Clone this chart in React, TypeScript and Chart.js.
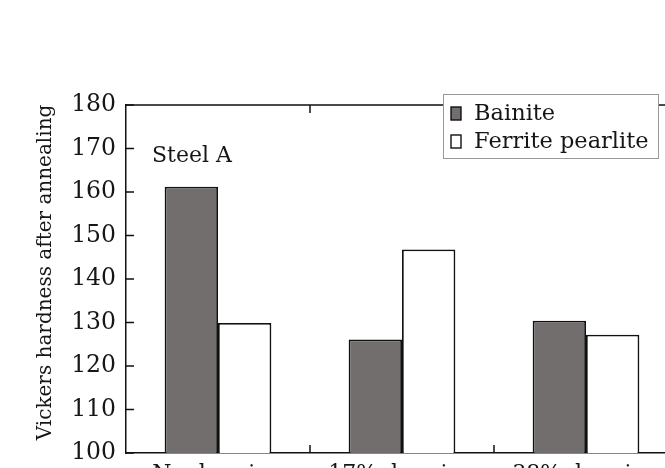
import React, { useEffect, useRef } from 'react';
import { Chart, registerables, ChartConfiguration, Plugin } from 'chart.js';

Chart.register(...registerables);

const categories = ['No drawing', '17% drawing', '38% drawing'];
const bainite = [161.2, 126.1, 130.4];
const ferritePearlite = [129.9, 146.8, 127.2];
const yTicks = [100, 110, 120, 130, 140, 150, 160, 170, 180];
const yTitle = 'Vickers hardness after annealing';

const FONT = '"DejaVu Serif", serif';
const BAR_GRAY = '#736e6e';
const INK = '#161616';

const decor: Plugin = {
  id: 'decor',
  afterDraw(chart) {
    const { ctx, chartArea: a } = chart;
    const x = chart.scales.x;
    const y = chart.scales.y;
    ctx.save();
    ctx.strokeStyle = '#111';
    ctx.lineWidth = 1.5;

    // top and right frame
    ctx.beginPath();
    ctx.moveTo(a.left, a.top);
    ctx.lineTo(a.right, a.top);
    ctx.lineTo(a.right, a.bottom);
    ctx.stroke();

    // inward y ticks
    ctx.beginPath();
    yTicks.forEach(v => {
      const py = y.getPixelForValue(v);
      ctx.moveTo(a.left, py);
      ctx.lineTo(a.left + 8, py);
    });
    // inward x ticks between categories
    for (let i = 1; i < categories.length; i++) {
      const px = (x.getPixelForValue(i - 1) + x.getPixelForValue(i)) / 2;
      ctx.moveTo(px, a.bottom);
      ctx.lineTo(px, a.bottom - 8);
      ctx.moveTo(px, a.top);
      ctx.lineTo(px, a.top + 8);
    }
    ctx.stroke();

    // y axis title (sits a little above the axis centre in the original)
    ctx.fillStyle = INK;
    ctx.save();
    ctx.translate(46, y.getPixelForValue(141.5));
    ctx.rotate(-Math.PI / 2);
    ctx.font = `20px ${FONT}`;
    ctx.textAlign = 'center';
    ctx.textBaseline = 'middle';
    ctx.fillText(yTitle, 0, 0);
    ctx.restore();

    // panel label
    ctx.font = `22px ${FONT}`;
    ctx.textAlign = 'left';
    ctx.textBaseline = 'middle';
    ctx.fillText('Steel A', x.getPixelForValue(0) - 66, y.getPixelForValue(168.3));

    // legend box
    const lx = 443, ly = 94, lw = 215, lh = 64;
    ctx.fillStyle = '#fff';
    ctx.fillRect(lx, ly, lw, lh);
    ctx.strokeStyle = '#999';
    ctx.lineWidth = 1;
    ctx.strokeRect(lx + 0.5, ly + 0.5, lw, lh);
    const items = [
      { label: 'Bainite', fill: BAR_GRAY },
      { label: 'Ferrite pearlite', fill: '#fff' },
    ];
    ctx.font = `22.5px ${FONT}`;
    items.forEach((it, i) => {
      const cy = ly + 19 + i * 28;
      ctx.fillStyle = it.fill;
      ctx.fillRect(451, cy - 6, 10, 13);
      ctx.strokeStyle = '#111';
      ctx.lineWidth = 1.4;
      ctx.strokeRect(451, cy - 6, 10, 13);
      ctx.fillStyle = INK;
      ctx.fillText(it.label, 474, cy + 1);
    });
    ctx.restore();
  },
};

const BarChart: React.FC = () => {
  const canvasRef = useRef<HTMLCanvasElement>(null);

  useEffect(() => {
    if (!canvasRef.current) return;
    const config: ChartConfiguration = {
      type: 'bar',
      data: {
        labels: categories,
        datasets: [
          {
            label: 'Bainite',
            data: bainite,
            backgroundColor: BAR_GRAY,
            borderColor: '#111',
            borderWidth: 1.8,
          },
          {
            label: 'Ferrite pearlite',
            data: ferritePearlite,
            backgroundColor: '#fff',
            borderColor: '#111',
            borderWidth: 1.8,
          },
        ],
      },
      options: {
        animation: false,
        responsive: true,
        maintainAspectRatio: false,
        layout: { padding: { top: 105, right: 12, left: 0, bottom: 0 } },
        datasets: { bar: { categoryPercentage: 0.58, barPercentage: 1.0 } },
        scales: {
          x: {
            grid: { display: false, drawTicks: false },
            border: { display: true, color: '#111', width: 1.5 },
            ticks: { color: INK, font: { family: FONT, size: 22 }, padding: 8 },
            afterFit: s => { s.height = 60; },
          },
          y: {
            min: 100,
            max: 180,
            grid: { display: false, drawTicks: false },
            border: { display: true, color: '#111', width: 1.5 },
            ticks: { stepSize: 10, color: INK, font: { family: FONT, size: 23.5 }, padding: 10 },
            afterFit: s => { s.width = 126; },
          },
        },
        plugins: {
          legend: { display: false },
          tooltip: { enabled: false },
        },
      },
      plugins: [decor],
    };
    const chart = new Chart(canvasRef.current, config);
    return () => chart.destroy();
  }, []);

  return (
    <div style={{ position: 'relative', width: 690, height: 513 }}>
      <canvas ref={canvasRef}></canvas>
    </div>
  );
};

export default function App() {
  return (
    <div
      style={{
        position: 'fixed',
        left: 0,
        top: 0,
        width: 665,
        height: 468,
        overflow: 'hidden',
        background: '#fff',
      }}
    >
      <BarChart />
    </div>
  );
}
